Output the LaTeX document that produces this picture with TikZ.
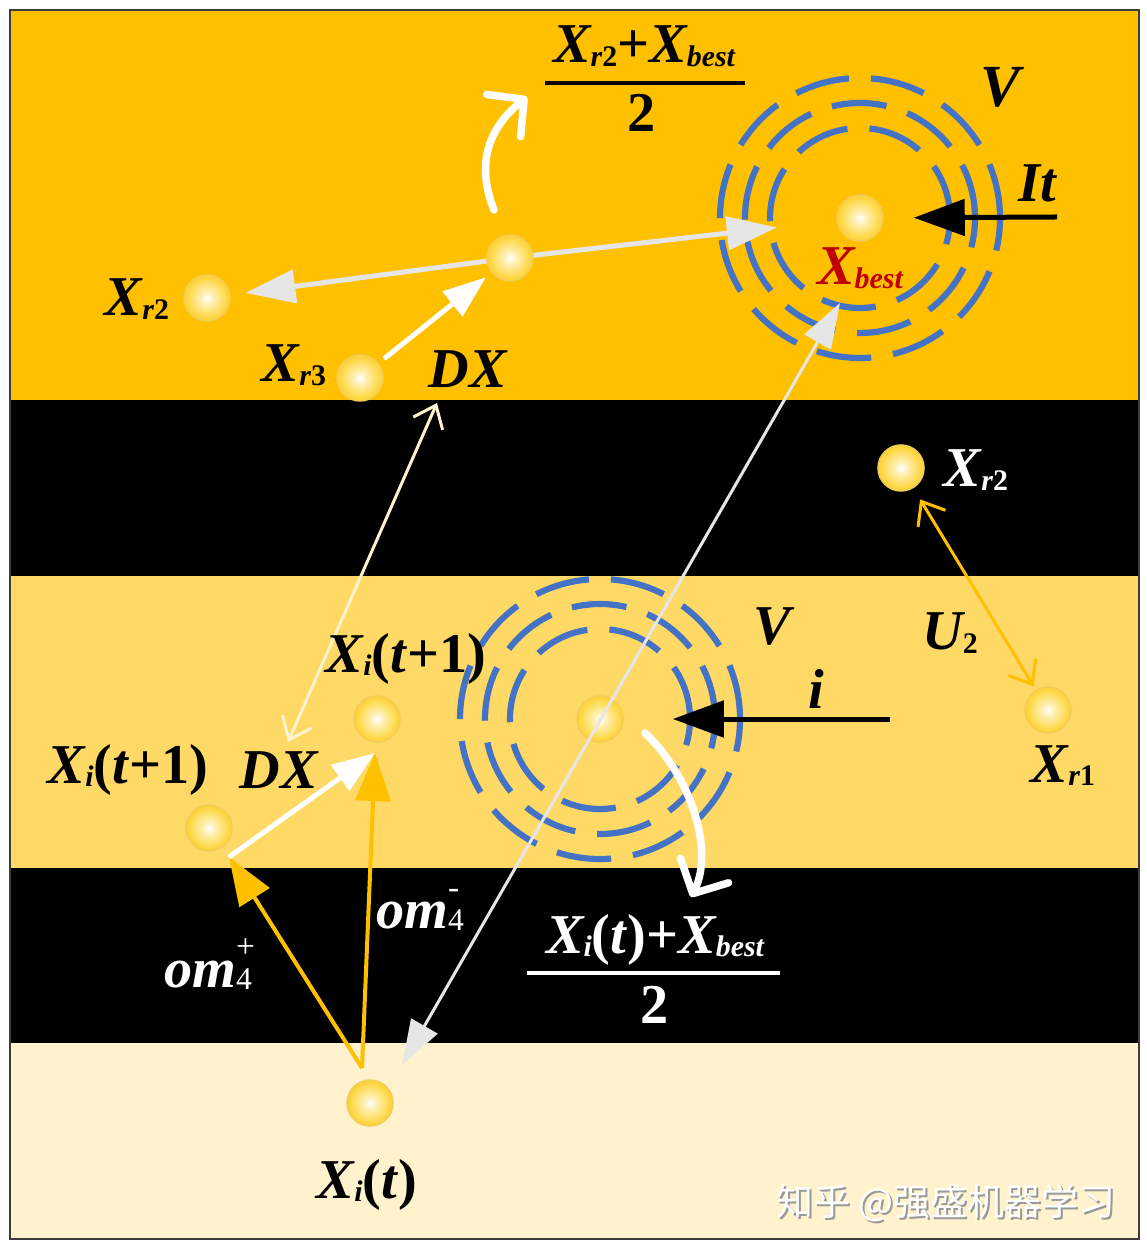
\documentclass[tikz,border=0pt]{standalone}
\usepackage{fontspec}
\setmainfont{Liberation Serif}
\newfontfamily\cjkfont{Noto Sans CJK SC}
\usetikzlibrary{arrows.meta, positioning}

\definecolor{bandtop}{RGB}{255,192,0}
\definecolor{bandmid}{RGB}{255,217,102}
\definecolor{bandlow}{RGB}{255,242,204}
\definecolor{ringblue}{RGB}{68,114,196}
\definecolor{bestred}{RGB}{192,0,0}
\definecolor{arrowgray}{RGB}{231,230,230}
\definecolor{ballhigh}{RGB}{255,240,180}
\definecolor{ballmid}{RGB}{255,214,64}
\definecolor{ballrim}{RGB}{238,184,16}
\definecolor{framegray}{RGB}{60,60,60}

\pgfdeclareradialshading{ballshade}{\pgfpoint{0bp}{0bp}}{%
	color(0bp)=(white); color(7bp)=(ballhigh); color(22bp)=(ballmid); color(40bp)=(ballrim); color(50bp)=(ballrim)}

\newcommand{\sbs}[1]{\raisebox{-0.15ex}{\fontsize{8.5}{9}\selectfont #1}}
\newcommand{\omsb}[1]{\rlap{\raisebox{1.15ex}{\fontsize{9.5}{10}\selectfont\mdseries\upshape #1}}\raisebox{-0.1ex}{\fontsize{9}{10}\selectfont\mdseries\upshape 4}}

\begin{document}
\begin{tikzpicture}[x=0.1mm, y=-0.1mm,
		ball/.style={circle, minimum size=4.6mm, inner sep=0pt, shade, shading=ballshade, draw=ballrim!70!white, line width=0.15mm},
		lbl/.style={font=\fontsize{16}{19}\selectfont\bfseries\itshape, inner sep=0pt, anchor=base},
		ring/.style={draw=ringblue, line width=0.62mm, dash pattern=on 5.5mm off 2.2mm},
		grayarrow/.style={draw=arrowgray, line width=0.5mm, -{Triangle[length=5mm, width=3.3mm]}},
		whitearrow/.style={draw=white, line width=0.5mm, -{Triangle[length=4.3mm, width=3.1mm]}},
		goldarrow/.style={draw=bandtop, line width=0.4mm, -{Triangle[length=4.8mm, width=3.5mm]}},
		blackarrow/.style={draw=black, line width=0.5mm, -{Triangle[length=5.1mm, width=3.6mm]}},
		barbs/.style={line width=0.3mm, {Straight Barb[length=2mm, width=3.2mm]}-{Straight Barb[length=2mm, width=3.2mm]}},
		turnarrow/.style={draw=white, line width=0.75mm, line cap=round, -{Straight Barb[length=2.6mm, width=5.4mm, round]}}]
	
	\path[fill=white] (0,0) rectangle (1146,1250);
	
	%% Faixas
	\fill[bandtop] (10,10) rectangle (1139,400);
	\fill[black] (10,400) rectangle (1139,576);
	\fill[bandmid] (10,576) rectangle (1139,868);
	\fill[black] (10,868) rectangle (1139,1043);
	\fill[bandlow] (10,1043) rectangle (1139,1239);
	
	%% Aneis
	\coordinate (cbest) at (860,218);
	\coordinate (cc) at (600,719);
	\foreach \r in {0.9,1.15,1.4} {
		\draw[ring] (cbest) circle (\r cm);
		\draw[ring] (cc) circle (\r cm);
	}
	
	%% Particulas
	\node[ball] (xm) at (510,258) {};
	\node[ball] (xrtwo) at (207,298) {};
	\node[ball] (xrthree) at (360,378) {};
	\node[ball] (xbest) at (cbest) {};
	\node[ball] (xrtwob) at (901,468) {};
	\node[ball] (xrone) at (1048,710) {};
	\node[ball] (xc) at (cc) {};
	\node[ball] (xnew) at (377,719) {};
	\node[ball] (xnewb) at (209,828) {};
	\node[ball] (xit) at (370,1103) {};
	
	%% Setas de cima
	\draw[grayarrow, shorten >=1.5mm] (xm) -- (xrtwo);
	\draw[grayarrow, shorten >=6mm] (xm) -- (xbest);
	\draw[whitearrow, shorten <=0.7mm, shorten >=0.7mm] (xrthree) -- (xm);
	\coordinate (ta) at (494,210);
	\coordinate (tb) at (527,97);
	\draw[turnarrow] (ta) .. controls (474,160) and (492,125) .. (tb);
	\coordinate (its) at (1057,217);
	\draw[blackarrow, shorten >=3mm] (its) -- (xbest);
	
	%% Setas do meio
	\coordinate (dxa) at (437,403);
	\coordinate (dxb) at (288,742);
	\draw[barbs, draw=bandlow] (dxa) -- (dxb);
	\draw[barbs, draw=bandtop, shorten <=1.3mm, shorten >=0.4mm] (xrtwob) -- (xrone);
	\coordinate (is) at (890,719);
	\draw[blackarrow, shorten >=4.9mm] (is) -- (xc);
	\coordinate (tc) at (645,733);
	\coordinate (td) at (691,897);
	\draw[turnarrow] (tc) .. controls (690,775) and (715,850) .. (td);
	
	%% Setas de baixo
	\coordinate (xo) at (362,1068);
	\coordinate (dxs) at (229,857);
	\coordinate (dxe) at (375,753);
	\draw[goldarrow] (xo) -- (dxs);
	\draw[goldarrow] (xo) -- (dxe);
	\draw[whitearrow] (dxs) -- (dxe);
	\coordinate (ga) at (840,303);
	\coordinate (gb) at (402,1065);
	\draw[draw=arrowgray, line width=0.3mm, {Triangle[length=4.5mm, width=3mm]}-{Triangle[length=4.5mm, width=3mm]}] (ga) -- (gb);
	
	%% Rotulos
	\node[lbl] (lfrtop) at (644,63) {X\sbs{r\textup{2}}\textup{+}X\sbs{best}};
	\draw[line width=0.4mm] (545,83) -- (745,83);
	\node[lbl] (ltwotop) at (642,132) {\textup{2}};
	\node[lbl, font=\fontsize{17}{20}\selectfont\bfseries\itshape] (lv) at (1000,107) {V};
	\node[lbl] (lit) at (1037,202) {It};
	\node[lbl, text=bestred] (lbest) at (860,285) {X\sbs{best}};
	\node[lbl] (lxrtwo) at (137,316) {X\sbs{r\textup{2}}};
	\node[lbl] (lxrthree) at (294,382) {X\sbs{r\textup{3}}};
	\node[lbl] (ldx) at (468,388) {DX};
	\node[lbl, text=white] (lxrtwob) at (976,487) {X\sbs{r\textup{2}}};
	\node[lbl] (lu) at (950,650) {U\sbs{\textup{2}}};
	\node[lbl] (lxrone) at (1063,782) {X\sbs{r\textup{1}}};
	\node[lbl] (lvb) at (772,645) {V};
	\node[lbl] (li) at (816,708) {i};
	\node[lbl] (lnew) at (406,672) {X\sbs{i}\textup{(}t\textup{+1)}};
	\node[lbl] (lnewb) at (128,783) {X\sbs{i}\textup{(}t\textup{+1)}};
	\node[lbl] (ldxb) at (279,788) {DX};
	\node[lbl, text=white] (lomm) at (420,928) {om\omsb{-}};
	\node[lbl, text=white] (lomp) at (208,987) {om\omsb{+}};
	\node[lbl, text=white] (lfrlow) at (655,953) {X\sbs{i}\textup{(}t\textup{)+}X\sbs{best}};
	\draw[white, line width=0.4mm] (527,973) -- (780,973);
	\node[lbl, text=white] (ltwolow) at (655,1023) {\textup{2}};
	\node[lbl] (lxit) at (367,1198) {X\sbs{i}\textup{(}t\textup{)}};
	
	%% Marca
	\node[font=\cjkfont\fontsize{10.5}{12}\selectfont, text=gray!80, anchor=base, inner sep=0pt] (wmshadow) at (948,1217) {知乎 @强盛机器学习};
	\node[font=\cjkfont\fontsize{10.5}{12}\selectfont, text=white, anchor=base, inner sep=0pt] (wm) at (946,1215) {知乎 @强盛机器学习};
	
	\draw[framegray, line width=0.2mm] (10,10) rectangle (1139,1239);
\end{tikzpicture}
\end{document}
